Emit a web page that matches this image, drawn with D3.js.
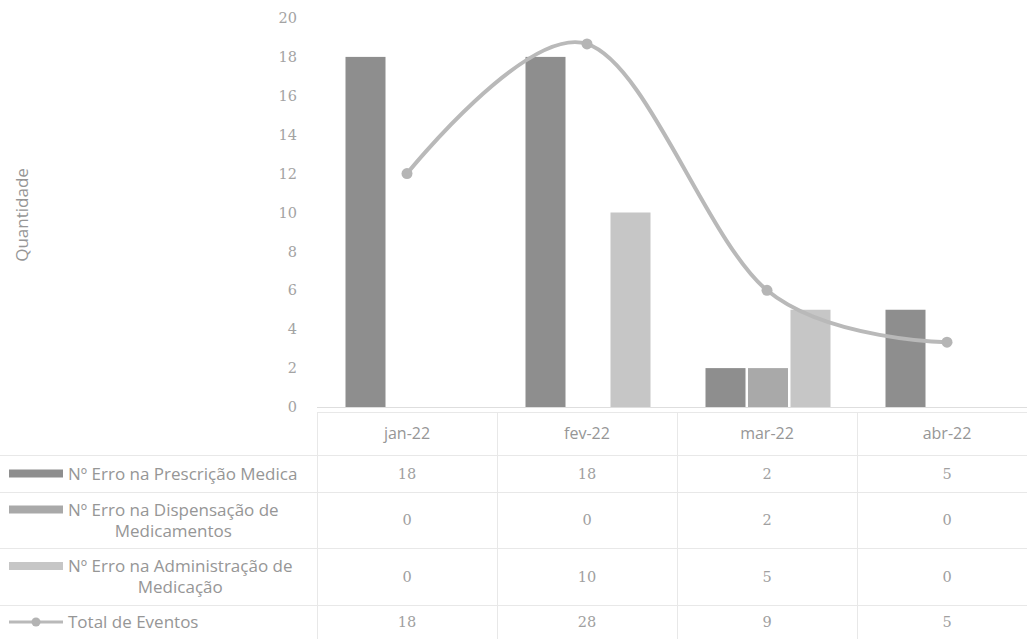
<!DOCTYPE html>
<html>
<head>
<meta charset="utf-8">
<script src="https://cdn.jsdelivr.net/npm/d3@7"></script>
<style>
  html, body { margin: 0; padding: 0; background: #ffffff; }
  svg { display: block; }
</style>
</head>
<body>
<svg id="chart" width="1027" height="639"></svg>
<script>
const categories = ["jan-22", "fev-22", "mar-22", "abr-22"];
const prescricao = [18, 18, 2, 5];
const dispensacao = [0, 0, 2, 0];
const administracao = [0, 10, 5, 0];
const totalEventos = [18, 28, 9, 5];
const yTicks = [0, 2, 4, 6, 8, 10, 12, 14, 16, 18, 20];
const seriesNames = [
  ["Nº Erro na Prescrição Medica"],
  ["Nº Erro na Dispensação de", "Medicamentos"],
  ["Nº Erro na Administração de", "Medicação"],
  ["Total de Eventos"]
];
const barSeries = [prescricao, dispensacao, administracao];
const barColors = ["#8e8e8e", "#a9a9a9", "#c6c6c6"];
const lineColor = "#b9b9b9";

const svg = d3.select("#chart");
const W = 1027, H = 639;
const sansFont = "'Open Sans', sans-serif";
const serifFont = "'DejaVu Serif', serif";
const textGray = "#969696";

const x = d3.scaleBand().domain(categories).range([317, 1037]).paddingInner(0).paddingOuter(0);
const xSub = d3.scaleBand().domain([0, 1, 2]).range([28.5, 153.5]).paddingInner(2.5 / 42.5).paddingOuter(0);
const y = d3.scaleLinear().domain([0, 20]).range([407, 18]);
const y2 = d3.scaleLinear().domain([0, 30]).range([407, 18]);

// y axis labels
const yAxis = d3.axisLeft(y).tickValues(yTicks).tickSize(0).tickPadding(0);
const ga = svg.append("g").attr("transform", "translate(297,0)").call(yAxis);
ga.select(".domain").remove();
ga.selectAll("text")
  .attr("font-family", serifFont)
  .attr("font-size", 14.5)
  .attr("fill", "#a3a3a3");

// y title
svg.append("text")
  .attr("transform", "translate(28,215) rotate(-90)")
  .attr("text-anchor", "middle")
  .attr("font-family", sansFont)
  .attr("font-size", 17)
  .attr("fill", textGray)
  .text("Quantidade");

// bars
barSeries.forEach((vals, si) => {
  svg.append("g").selectAll("rect")
    .data(vals.map((v, i) => ({ c: categories[i], v })))
    .join("rect")
    .attr("x", d => x(d.c) + xSub(si))
    .attr("width", xSub.bandwidth())
    .attr("y", d => y(d.v))
    .attr("height", d => y(0) - y(d.v))
    .attr("fill", barColors[si]);
});

// baseline
svg.append("line")
  .attr("x1", 317).attr("x2", W)
  .attr("y1", y(0) + 0.5).attr("y2", y(0) + 0.5)
  .attr("stroke", "#dedede").attr("stroke-width", 1);

// line series (secondary, hidden scale 0-30)
const lineData = totalEventos.map((v, i) => ({ c: categories[i], v }));
const line = d3.line()
  .x(d => x(d.c) + x.bandwidth() / 2)
  .y(d => y2(d.v))
  .curve(d3.curveCardinal.tension(0));
svg.append("path")
  .datum(lineData)
  .attr("d", line)
  .attr("fill", "none")
  .attr("stroke", lineColor)
  .attr("stroke-width", 4)
  .attr("stroke-linecap", "round");
svg.append("g").selectAll("circle")
  .data(lineData)
  .join("circle")
  .attr("cx", d => x(d.c) + x.bandwidth() / 2)
  .attr("cy", d => y2(d.v))
  .attr("r", 5.5)
  .attr("fill", "#b5b5b5");

// data table
const rowBounds = [412, 455, 492, 548, 605, 639];
const grid = svg.append("g").attr("stroke", "#e8e8e8").attr("stroke-width", 1);
grid.append("line").attr("x1", 317).attr("x2", W).attr("y1", rowBounds[0] + 0.5).attr("y2", rowBounds[0] + 0.5);
rowBounds.slice(1, 5).forEach(b => {
  grid.append("line").attr("x1", 0).attr("x2", W).attr("y1", b + 0.5).attr("y2", b + 0.5);
});
categories.forEach(c => {
  grid.append("line").attr("x1", x(c) + 0.5).attr("x2", x(c) + 0.5).attr("y1", rowBounds[0]).attr("y2", H);
});

// header labels
svg.append("g").selectAll("text")
  .data(categories)
  .join("text")
  .attr("x", d => x(d) + x.bandwidth() / 2)
  .attr("y", (rowBounds[0] + rowBounds[1]) / 2 + 5)
  .attr("text-anchor", "middle")
  .attr("font-family", sansFont)
  .attr("font-size", 16)
  .attr("fill", textGray)
  .text(d => d);

const tableRows = [prescricao, dispensacao, administracao, totalEventos];
tableRows.forEach((vals, ri) => {
  const cy = (rowBounds[ri + 1] + rowBounds[ri + 2]) / 2;
  svg.append("g").selectAll("text")
    .data(vals.map((v, i) => ({ c: categories[i], v })))
    .join("text")
    .attr("x", d => x(d.c) + x.bandwidth() / 2)
    .attr("y", cy + 5)
    .attr("text-anchor", "middle")
    .attr("font-family", serifFont)
    .attr("font-size", 14.5)
    .attr("fill", "#a0a0a0")
    .text(d => d.v);

  const names = seriesNames[ri];
  const firstY = names.length > 1 ? cy - 10.5 : cy;

  // legend key
  if (ri < 3) {
    svg.append("rect")
      .attr("x", 9).attr("y", firstY - 4)
      .attr("width", 54).attr("height", 8)
      .attr("fill", barColors[ri]);
  } else {
    svg.append("line")
      .attr("x1", 9).attr("x2", 63).attr("y1", cy).attr("y2", cy)
      .attr("stroke", lineColor).attr("stroke-width", 3);
    svg.append("circle").attr("cx", 36).attr("cy", cy).attr("r", 4.5).attr("fill", "#b3b3b3");
  }

  // legend text
  const textStart = 68;
  const t1 = svg.append("text")
    .attr("x", textStart).attr("y", firstY + 6)
    .attr("font-family", sansFont)
    .attr("font-size", 17)
    .attr("fill", textGray)
    .text(names[0]);
  if (names.length > 1) {
    const w1 = t1.node().getComputedTextLength();
    svg.append("text")
      .attr("x", textStart + w1 / 2).attr("y", cy + 10.5 + 6)
      .attr("text-anchor", "middle")
      .attr("font-family", sansFont)
      .attr("font-size", 17)
      .attr("fill", textGray)
      .text(names[1]);
  }
});
</script>
</body>
</html>
